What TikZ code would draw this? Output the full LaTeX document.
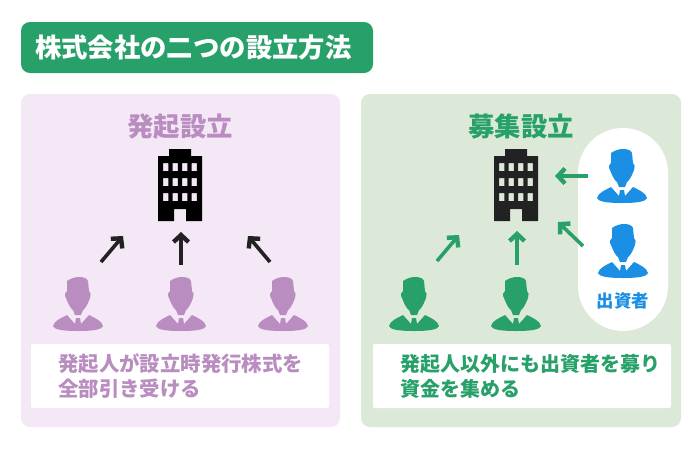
\documentclass[tikz,border=0pt]{standalone}
\usepackage{fontspec}
\setmainfont{Noto Sans CJK JP}
\usetikzlibrary{arrows.meta}
\definecolor{hgreen}{HTML}{27A06A}
\definecolor{hpurple}{HTML}{B98DC0}
\definecolor{hblue}{HTML}{1A8FE3}
\definecolor{lpurple}{HTML}{F4E7F6}
\definecolor{lgreen}{HTML}{DDE9D8}
\definecolor{darkb}{HTML}{222222}
\tikzset{
  panel/.style={rounded corners=9pt,fill=#1},
  txt/.style={font=\bfseries\fontsize{#1}{#1}\selectfont,inner sep=0pt},
  lbl/.style={txt=20,anchor=west},
  arw/.style={draw=#1,line width=3.6pt,-{Straight Barb[length=7pt,width=15pt,line width=4.4pt]}},
  person/.pic={\path[pic actions]
    (-11,4) .. controls (-7,1) and (-2,0) .. (1,0) .. controls (5,0) and (9,1) .. (10,4)
    -- (11,14) .. controls (13,15) and (13,18) .. (12,21)
    .. controls (10,26) and (8,31) .. (5,33) -- (3,38) -- (-3,38) -- (-5,33)
    .. controls (-8,31) and (-10,26) .. (-12,21) .. controls (-14,18) and (-13,15) .. (-11,14) -- cycle;
    \path[pic actions]
    (-25,49) .. controls (-24,44) and (-17,41) .. (-11,38) -- (-3,47) -- (-2,41) -- (2,41) -- (3,47) -- (11,38)
    .. controls (17,41) and (24,44) .. (25,49) .. controls (24,52) and (18,54) .. (0,54)
    .. controls (-18,54) and (-24,52) .. (-25,49) -- cycle;},
  building/.pic={\path[pic actions,even odd rule]
    (-11,0) -- (11,0) -- (11,7) -- (22,7) -- (22,72) -- (6,72) -- (6,60) -- (-6,60) -- (-6,72) -- (-22,72) -- (-22,7) -- (-11,7) -- cycle
    \foreach \wy in {14,29,44}{ \foreach \wx in {-17,-7.5,2,11.5}{ (\wx,\wy) rectangle ++(5.3,8) } };}
}
\begin{document}
\begin{tikzpicture}[x=1pt,y=-1pt]
\useasboundingbox[fill=white] (0,0) rectangle (700,450);
\fill[panel=hgreen] (21,22) rectangle (373,73);
\node[txt=26.35,text=white,anchor=west] (title) at (35,48) {株式会社の二つの設立方法};
\fill[panel=lpurple] (21,94) rectangle (340,427);
\fill[panel=lgreen] (361,94) rectangle (681,427);
\fill[white,rounded corners=2pt] (31,344) rectangle (329,408);
\fill[white,rounded corners=2pt] (373,344) rectangle (671,408);
\fill[white,rounded corners=45pt] (578,128) rectangle (668,331);
\node[txt=26.4,text=hpurple] (t1) at (180,127) {発起設立};
\node[txt=26.4,text=hgreen] (t2) at (521,127) {募集設立};
\pic[fill=black] at (180,149) {building};
\pic[fill=darkb] at (516,149) {building};
\foreach \px in {78,181,283} \pic[fill=hpurple] at (\px,277) {person};
\foreach \px in {414,516} \pic[fill=hgreen] at (\px,277) {person};
\pic[fill=hblue] at (622,149) {person};
\pic[fill=hblue] at (623,224) {person};
\node[txt=17.4,text=hblue] (inv) at (623,301) {出資者};
\node[txt=20.4,anchor=west,text=hpurple] (a1) at (58,364) {発起人が設立時発行株式を};
\node[txt=20.4,anchor=west,text=hpurple] (a2) at (58,389) {全部引き受ける};
\node[lbl,text=hgreen] (b1) at (400,364) {発起人以外にも出資者を募り};
\node[lbl,text=hgreen] (b2) at (400,389) {資金を集める};
\coordinate (p1s) at (101,262); \coordinate (p1e) at (123,236);
\coordinate (p2s) at (181,265); \coordinate (p2e) at (181,232);
\coordinate (p3s) at (270,262); \coordinate (p3e) at (248,236);
\coordinate (g1s) at (437,261); \coordinate (g1e) at (459,235);
\coordinate (g2s) at (517,265); \coordinate (g2e) at (517,231);
\coordinate (g3s) at (583,246); \coordinate (g3e) at (558,222);
\coordinate (g4s) at (588,176); \coordinate (g4e) at (555,176);
\draw[arw=darkb] (p1s) -- (p1e);
\draw[arw=darkb] (p2s) -- (p2e);
\draw[arw=darkb] (p3s) -- (p3e);
\draw[arw=hgreen] (g1s) -- (g1e);
\draw[arw=hgreen] (g2s) -- (g2e);
\draw[arw=hgreen] (g3s) -- (g3e);
\draw[arw=hgreen] (g4s) -- (g4e);
\end{tikzpicture}
\end{document}
